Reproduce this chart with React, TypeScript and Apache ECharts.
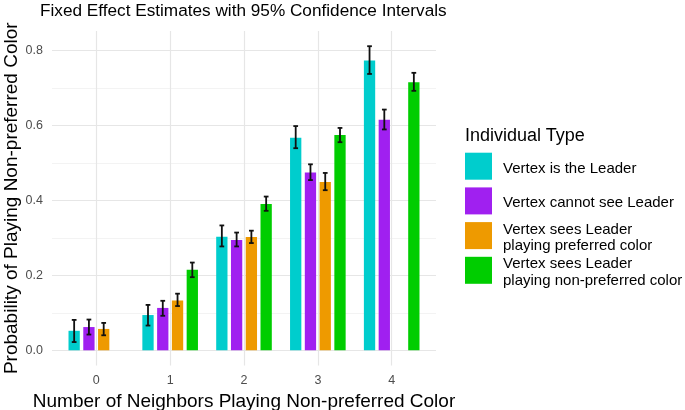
import React, { useEffect, useRef } from "react";
import * as echarts from "echarts";

// ---- data ----
const categories = ["0", "1", "2", "3", "4"];
const typeNames = [
  "Vertex is the Leader",
  "Vertex cannot see Leader",
  "Vertex sees Leader\nplaying preferred color",
  "Vertex sees Leader\nplaying non-preferred color",
];
const typeColors = ["#00CDCD", "#A020F0", "#EE9A00", "#00CD00"];

const leaderEst = [0.052, 0.094, 0.303, 0.567, 0.773];
const leaderLo = [0.022, 0.066, 0.277, 0.539, 0.737];
const leaderHi = [0.081, 0.121, 0.333, 0.598, 0.811];

const cannotSeeEst = [0.062, 0.113, 0.294, 0.474, 0.615];
const cannotSeeLo = [0.042, 0.092, 0.277, 0.454, 0.589];
const cannotSeeHi = [0.082, 0.132, 0.314, 0.496, 0.642];

const seesPrefEst = [0.057, 0.133, 0.302, 0.449, null];
const seesPrefLo = [0.04, 0.118, 0.286, 0.427, null];
const seesPrefHi = [0.073, 0.151, 0.319, 0.473, null];

const seesNonPrefEst = [null, 0.215, 0.39, 0.574, 0.715];
const seesNonPrefLo = [null, 0.195, 0.372, 0.555, 0.692];
const seesNonPrefHi = [null, 0.234, 0.41, 0.593, 0.74];

const yMajorTicks = [0, 0.2, 0.4, 0.6, 0.8];
const yMinorTicks = [0.1, 0.3, 0.5, 0.7];

const allEst = [leaderEst, cannotSeeEst, seesPrefEst, seesNonPrefEst];
const allLo = [leaderLo, cannotSeeLo, seesPrefLo, seesNonPrefLo];
const allHi = [leaderHi, cannotSeeHi, seesPrefHi, seesNonPrefHi];

const FONT = "'Liberation Sans', Arial, Helvetica, sans-serif";
const SLOT = 0.2; // dodge slot in category units
const BAR = 0.153; // bar width in category units
const CAP = 0.032; // half cap width

export default function App() {
  const ref = useRef<HTMLDivElement>(null);
  useEffect(() => {
    if (!ref.current) return;
    document.body.style.margin = "0";
    const chart = echarts.init(ref.current, undefined, { renderer: "svg" });

    const hiMax = Math.max(...(allHi.flat().filter((v) => v != null) as number[]));
    const yMin = -0.05 * hiMax;
    const yMax = hiMax * 1.05;

    const makeRender = (k: number) => (params: any, api: any) => {
      const cat = api.value(0);
      const est = api.value(1);
      const lo = api.value(2);
      const hi = api.value(3);
      const unit = api.size([1, 0])[0];
      const base = api.coord([cat, 0]);
      const xc = base[0] + (k - 1.5) * SLOT * unit;
      const y0 = base[1];
      const yE = api.coord([cat, est])[1];
      const yL = api.coord([cat, lo])[1];
      const yH = api.coord([cat, hi])[1];
      const bw = BAR * unit;
      const cw = CAP * unit;
      const lineStyle = { stroke: "#111", lineWidth: 1.8 };
      return {
        type: "group",
        children: [
          {
            type: "rect",
            shape: { x: xc - bw / 2, y: yE, width: bw, height: y0 - yE },
            style: { fill: typeColors[k] },
          },
          { type: "line", shape: { x1: xc, y1: yL, x2: xc, y2: yH }, style: lineStyle },
          { type: "line", shape: { x1: xc - cw, y1: yH, x2: xc + cw, y2: yH }, style: lineStyle },
          { type: "line", shape: { x1: xc - cw, y1: yL, x2: xc + cw, y2: yL }, style: lineStyle },
        ],
      };
    };

    const barSeries = typeNames.map((name, k) => ({
      name,
      type: "custom",
      z: 3,
      renderItem: makeRender(k),
      encode: { x: 0, y: [1, 2, 3] },
      data: categories
        .map((c, i) => [i, allEst[k][i], allLo[k][i], allHi[k][i]])
        .filter((d) => d[1] != null),
    }));

    const gridSeries = {
      type: "line",
      data: [],
      z: 0,
      silent: true,
      markLine: {
        z: 0,
        silent: true,
        symbol: ["none", "none"],
        label: { show: false },
        emphasis: { disabled: true },
        animation: false,
        data: [
          ...yMinorTicks.map((v) => ({ yAxis: v, lineStyle: { color: "#f0f0f0", width: 0.8, type: "solid" } })),
          ...yMajorTicks.map((v) => ({ yAxis: v, lineStyle: { color: "#e6e6e6", width: 1.2, type: "solid" } })),
          ...categories.map((c, i) => ({ xAxis: i, lineStyle: { color: "#e6e6e6", width: 1.2, type: "solid" } })),
        ],
      },
    };

    const keyTop0 = 152.7;
    const keyStep = 34.7;
    const legendGraphic: any[] = [
      {
        type: "text",
        x: 465,
        y: 134.5,
        style: {
          text: "Individual Type",
          font: `18px ${FONT}`,
          fill: "#000",
          align: "left",
          verticalAlign: "middle",
        },
      },
    ];
    typeNames.forEach((n, i) => {
      const top = keyTop0 + i * keyStep;
      legendGraphic.push({
        type: "rect",
        shape: { x: 465, y: top, width: 27, height: 27 },
        style: { fill: typeColors[i] },
      });
      legendGraphic.push({
        type: "text",
        x: 503,
        y: top + 14.5,
        style: {
          text: n,
          font: `15px ${FONT}`,
          lineHeight: 16.7,
          fill: "#000",
          align: "left",
          verticalAlign: "middle",
        },
      });
    });

    chart.setOption({
      animation: false,
      textStyle: { fontFamily: FONT },
      title: {
        text: "Fixed Effect Estimates with 95% Confidence Intervals",
        left: 40,
        top: 1,
        padding: 0,
        textStyle: { fontSize: 17.2, fontWeight: "normal", color: "#000", fontFamily: FONT },
      },
      grid: { left: 52, right: 249, top: 31, bottom: 44.5, outerBoundsMode: "none", containLabel: false },
      xAxis: {
        type: "value",
        min: -0.6,
        max: 4.6,
        name: "Number of Neighbors Playing Non-preferred Color",
        nameLocation: "middle",
        nameGap: 25,
        nameMoveOverlap: false,
        nameTextStyle: { fontSize: 19, color: "#000", fontFamily: FONT },
        axisLine: { show: false },
        axisTick: { show: false },
        splitLine: { show: false },
        axisLabel: {
          customValues: categories.map((c, i) => i),
          formatter: (v: number) => categories[Math.round(v)] ?? "",
          fontSize: 12.5,
          color: "#4d4d4d",
          margin: 8,
          fontFamily: FONT,
        },
      },
      yAxis: {
        type: "value",
        min: yMin,
        max: yMax,
        name: "Probability of Playing Non-preferred Color",
        nameLocation: "middle",
        nameGap: 32,
        nameMoveOverlap: false,
        nameTextStyle: { fontSize: 19, color: "#000", fontFamily: FONT },
        axisLine: { show: false },
        axisTick: { show: false },
        splitLine: { show: false },
        axisLabel: {
          customValues: yMajorTicks,
          formatter: (v: number) => v.toFixed(1),
          fontSize: 12.5,
          color: "#4d4d4d",
          margin: 9,
          fontFamily: FONT,
        },
      },
      graphic: legendGraphic,
      series: [gridSeries, ...barSeries],
    });
    return () => chart.dispose();
  }, []);
  return (
    <div
      ref={ref}
      style={{ position: "fixed", left: 0, top: 0, width: 685, height: 410 }}
    />
  );
}
